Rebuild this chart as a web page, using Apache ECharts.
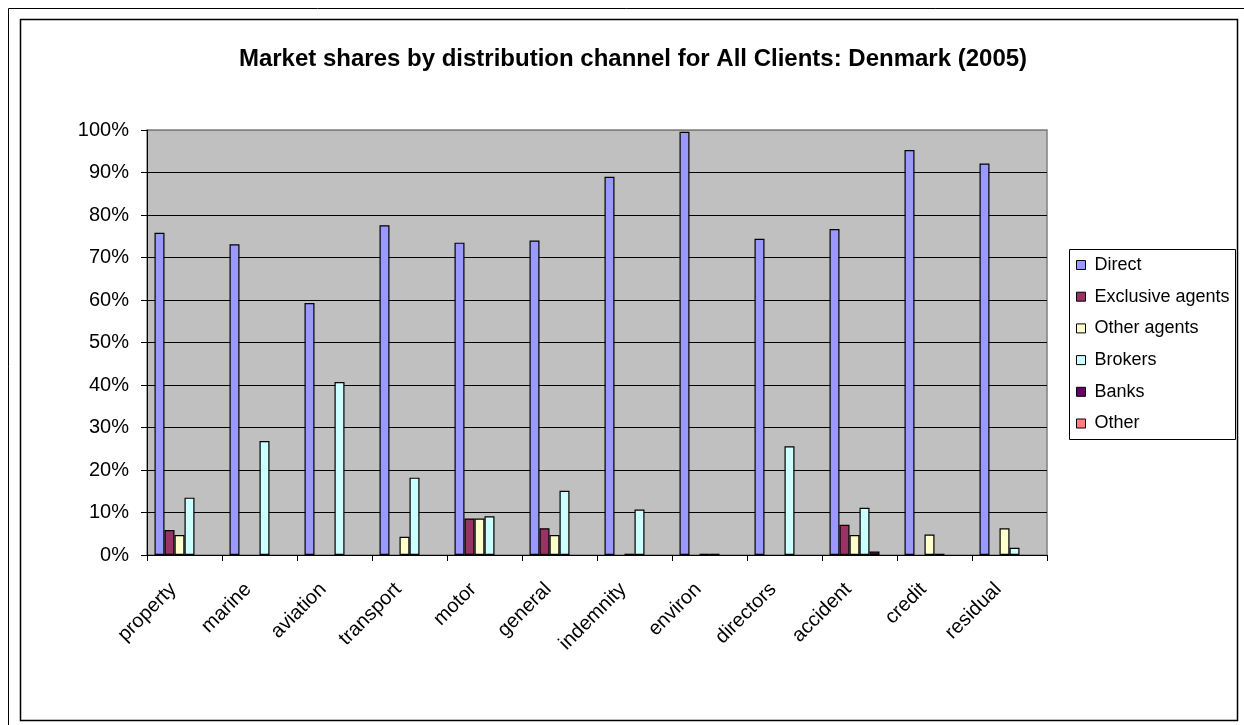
<!DOCTYPE html>
<html>
<head>
<meta charset="utf-8">
<script src="https://cdn.jsdelivr.net/npm/echarts@6/dist/echarts.min.js"></script>
<style>
    html, body { margin: 0; padding: 0; background: #fff; }
    #chart { width: 1244px; height: 725px; }
</style>
</head>
<body>
<div id="chart"></div>
<script>
/* ---------------- DATA ---------------- */

const CATEGORIES = [
    "property", "marine", "aviation", "transport", "motor", "general",
    "indemnity", "environ", "directors", "accident", "credit", "residual",
];

// shares in percent
const DIRECT = [75.8, 73.1, 59.3, 77.6, 73.5, 74.0, 89.0, 99.6, 74.4, 76.7, 95.3, 92.1];
const EXCLUSIVE_AGENTS = [5.9, 0, 0, 0, 8.6, 6.3, 0, 0, 0, 7.1, 0, 0];
const OTHER_AGENTS = [4.7, 0, 0, 4.3, 8.6, 4.7, 0.3, 0.3, 0, 4.7, 4.8, 6.3];
const BROKERS = [13.5, 26.8, 40.7, 18.2, 9.1, 15.1, 10.7, 0.3, 25.6, 11.1, 0.3, 1.7];
const BANKS = [0, 0, 0, 0, 0, 0, 0, 0, 0, 0.8, 0, 0];
const OTHER = [0, 0, 0, 0, 0, 0, 0, 0, 0, 0, 0, 0];

const SERIES_NAMES = ["Direct", "Exclusive agents", "Other agents", "Brokers", "Banks", "Other"];
const SERIES_DATA = [DIRECT, EXCLUSIVE_AGENTS, OTHER_AGENTS, BROKERS, BANKS, OTHER];

const COLORS = [
    "#9999FF", // direct
    "#993366", // exclusive agents
    "#FFFFCC", // other agents
    "#CCFFFF", // brokers
    "#660066", // banks
    "#FF8080", // other
];

const TITLE = "Market shares by distribution channel for All Clients: Denmark (2005)";

/* ---------------- CHART ---------------- */

const FONT = "'Liberation Sans', Arial, sans-serif";
const chart = echarts.init(document.getElementById("chart"), null, { renderer: "canvas" });

// top gridline sits on the plot border, which is grey
const splitColors = Array.from({ length: 11 }, (_, i) => (i === 10 ? "#808080" : "#000"));

const option = {
    animation: false,
    backgroundColor: "#fff",
    textStyle: { fontFamily: FONT },

    title: {
        text: TITLE,
        left: 628,
        textAlign: "center",
        top: 42,
        textStyle: {
            fontFamily: FONT,
            fontSize: 24,
            fontWeight: "bold",
            color: "#000",
        },
    },

    graphic: [
        // outer frame
        {
            type: "polyline",
            shape: { points: [[8.5, 725], [8.5, 8.5], [1244, 8.5]] },
            style: { stroke: "#000", lineWidth: 1, fill: null },
            silent: true,
        },
        // chart area border
        {
            type: "rect",
            shape: { x: 20.5, y: 19.5, width: 1217, height: 701 },
            style: { stroke: "#000", lineWidth: 1.5, fill: null },
            silent: true,
        },
        // legend box
        {
            type: "rect",
            shape: { x: 1069.5, y: 249.5, width: 166, height: 190 },
            style: { stroke: "#000", lineWidth: 1, fill: "#fff" },
            silent: true,
        },
    ],

    legend: {
        orient: "vertical",
        left: 1076,
        top: 256,
        padding: 0,
        itemWidth: 9,
        itemHeight: 9,
        itemGap: 13.7,
        icon: "rect",
        itemStyle: { borderColor: "#000", borderWidth: 1 },
        textStyle: {
            fontFamily: FONT,
            fontSize: 18,
            lineHeight: 18,
            color: "#000",
            padding: [0, 0, 0, 4],
        },
        data: SERIES_NAMES,
    },

    grid: {
        left: 147,
        right: 197,
        top: 130,
        bottom: 170,
        show: true,
        backgroundColor: "#C0C0C0",
        borderColor: "#808080",
        borderWidth: 1.5,
    },

    xAxis: {
        type: "category",
        data: CATEGORIES,
        axisLine: { lineStyle: { color: "#000", width: 1 } },
        axisTick: { show: true, length: 6, lineStyle: { color: "#000" } },
        axisLabel: {
            rotate: 45,
            interval: 0,
            margin: 20,
            padding: [0, 16, 0, 0],
            fontFamily: FONT,
            fontSize: 20,
            color: "#000",
        },
        splitLine: { show: false },
    },

    yAxis: {
        type: "value",
        min: 0,
        max: 100,
        interval: 10,
        axisLine: { show: true, lineStyle: { color: "#000", width: 1 } },
        axisTick: { show: true, length: 6, lineStyle: { color: "#000" } },
        axisLabel: {
            formatter: "{value}%",
            margin: 18,
            fontFamily: FONT,
            fontSize: 20,
            color: "#000",
        },
        splitLine: { lineStyle: { color: splitColors, width: 1 } },
    },

    series: SERIES_DATA.map((values, index) => ({
        name: SERIES_NAMES[index],
        type: "bar",
        barGap: "0%",
        barCategoryGap: "20%",
        // Excel draws nothing for a zero share
        data: values.map((v) => (v === 0 ? null : v)),
        itemStyle: {
            color: COLORS[index],
            borderColor: "#000",
            borderWidth: 1.2,
        },
    })),
};

chart.setOption(option);
</script>
</body>
</html>
